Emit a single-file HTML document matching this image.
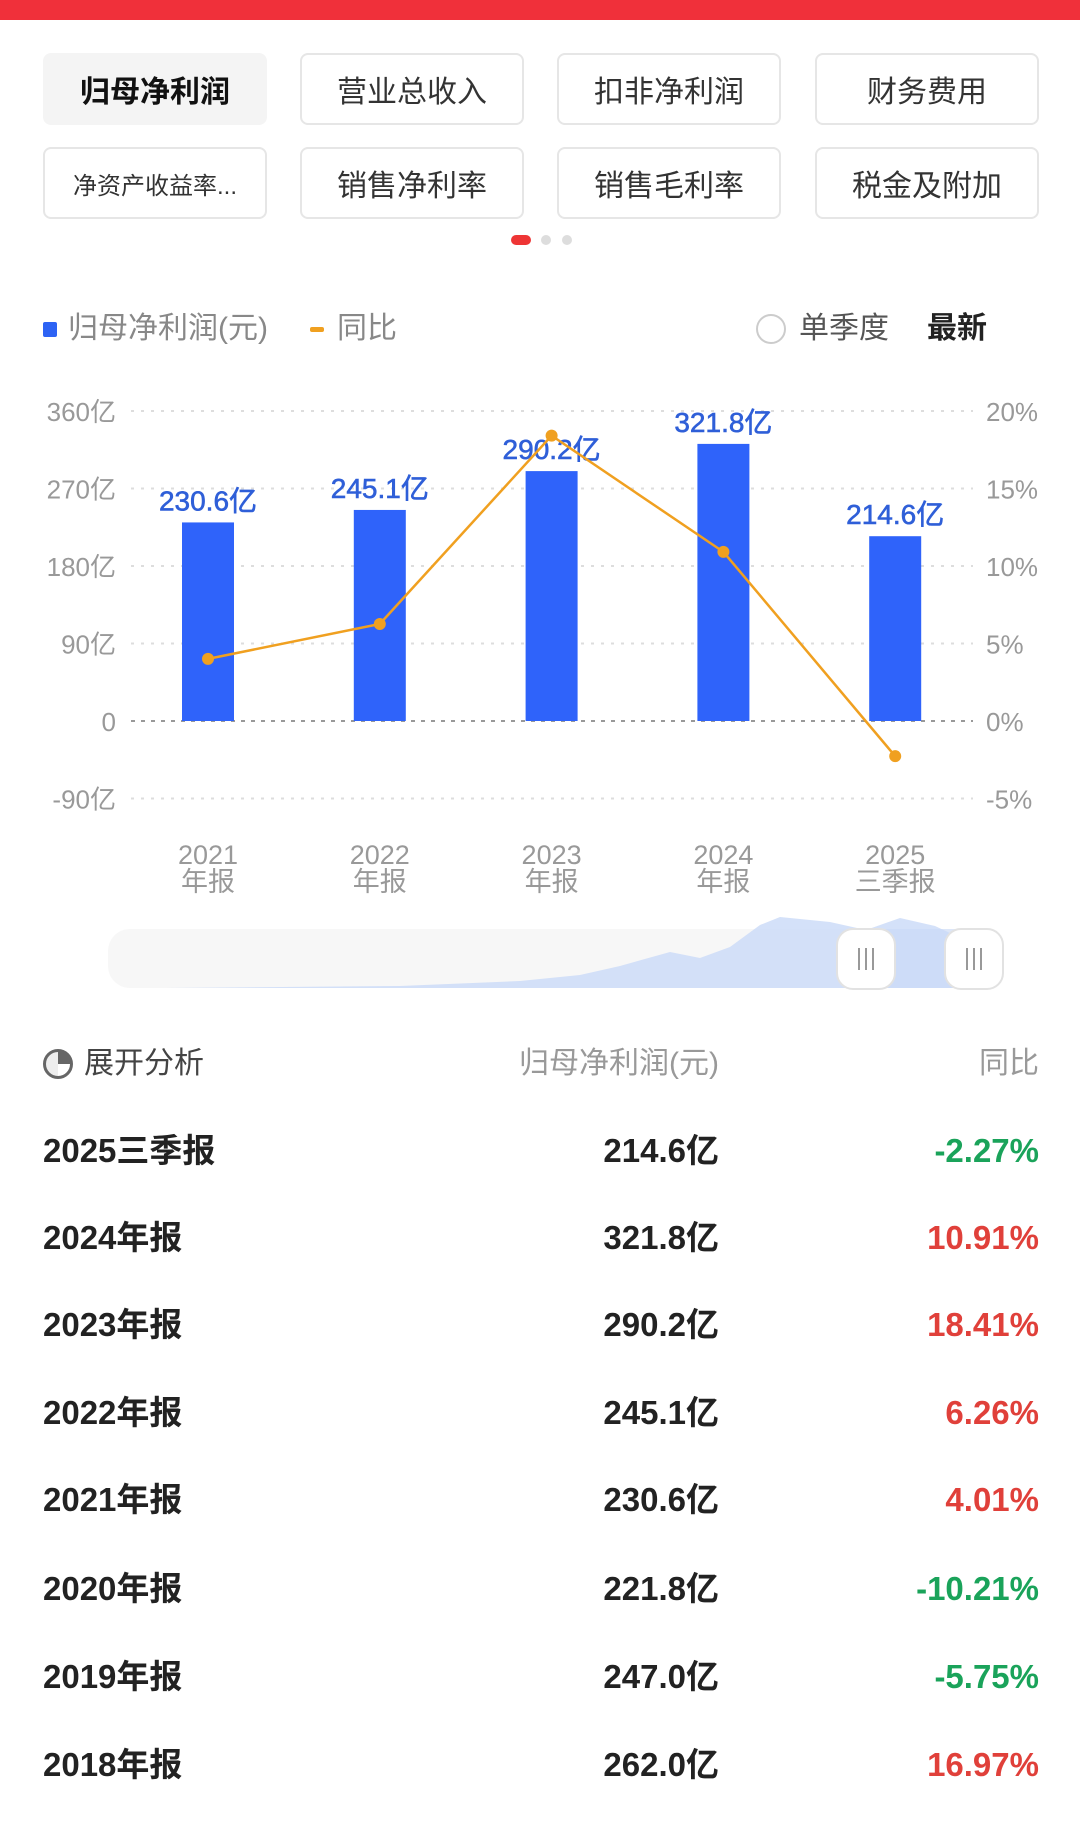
<!DOCTYPE html>
<html><head><meta charset="utf-8">
<style>
*{margin:0;padding:0;box-sizing:border-box}
body{width:1080px;height:1821px;background:#fff;position:relative;overflow:hidden;font-family:"Liberation Sans","Noto Sans CJK SC",sans-serif;color:#222}
.abs{position:absolute}
.btn{position:absolute;width:224px;height:72px;border:2px solid #e6e6e6;border-radius:8px;display:flex;align-items:center;justify-content:center;font-size:30px;color:#333}
.btn.active{background:#f4f4f4;border-color:#f4f4f4;font-weight:bold;color:#111}
.row{position:absolute;left:0;width:1080px;height:40px;font-size:33px;font-weight:bold;color:#222}
.row span{position:absolute;top:0;line-height:40px}
.c1{left:43px}
.c2{right:361px}
.c3{right:41px}
.up{color:#e0403a}.down{color:#1aa35a}
</style></head><body>
<div class="abs" style="left:0;top:0;width:1080px;height:20px;background:#f0303a"></div>

<div class="btn active" style="left:43px;top:53px">归母净利润</div>
<div class="btn" style="left:300px;top:53px">营业总收入</div>
<div class="btn" style="left:557px;top:53px">扣非净利润</div>
<div class="btn" style="left:815px;top:53px">财务费用</div>
<div class="btn" style="left:43px;top:147px;font-size:24px">净资产收益率...</div>
<div class="btn" style="left:300px;top:147px">销售净利率</div>
<div class="btn" style="left:557px;top:147px">销售毛利率</div>
<div class="btn" style="left:815px;top:147px">税金及附加</div>

<div class="abs" style="left:511px;top:235px;width:20px;height:10px;border-radius:5px;background:#ee3535"></div>
<div class="abs" style="left:541px;top:235px;width:10px;height:10px;border-radius:5px;background:#ddd"></div>
<div class="abs" style="left:562px;top:235px;width:10px;height:10px;border-radius:5px;background:#ddd"></div>

<div class="abs" style="left:43px;top:322px;width:14px;height:15px;background:#2d63f4;border-radius:2px"></div>
<div class="abs" style="left:68px;top:310px;font-size:30px;color:#888;line-height:38px">归母净利润(元)</div>
<div class="abs" style="left:310px;top:327px;width:14px;height:5px;background:#f0a020;border-radius:2px"></div>
<div class="abs" style="left:337px;top:310px;font-size:30px;color:#888;line-height:38px">同比</div>
<div class="abs" style="left:756px;top:314px;width:30px;height:30px;border:2px solid #ccc;border-radius:50%"></div>
<div class="abs" style="left:799px;top:310px;font-size:30px;color:#555;line-height:38px">单季度</div>
<div class="abs" style="left:927px;top:310px;font-size:30px;color:#222;font-weight:bold;line-height:38px">最新</div>

<svg class="abs" id="chart" style="left:0;top:380px" width="1080" height="640" viewBox="0 380 1080 640"></svg>

<div class="abs" style="left:43px;top:1049px;width:30px;height:30px;border:3px solid #666;border-radius:50%;background:conic-gradient(#666 0 90deg,#fff 90deg 180deg,#eee 180deg 360deg)"></div>
<div class="abs" style="left:84px;top:1044px;font-size:30px;color:#444;line-height:40px">展开分析</div>
<div class="abs" style="right:361px;top:1044px;font-size:30px;color:#999;line-height:40px">归母净利润(元)</div>
<div class="abs" style="right:41px;top:1044px;font-size:30px;color:#999;line-height:40px">同比</div>

<div id="table"></div>

<script>
const categories=["2021","2022","2023","2024","2025"];
const periods=["年报","年报","年报","年报","三季报"];
const profits=[230.6,245.1,290.2,321.8,214.6];
const yoy=[4.01,6.26,18.41,10.91,-2.27];
const leftTicks=[360,270,180,90,0,-90];
const rightTicks=[20,15,10,5,0,-5];
const tableLabels=["2025三季报","2024年报","2023年报","2022年报","2021年报","2020年报","2019年报","2018年报"];
const tableValues=["214.6亿","321.8亿","290.2亿","245.1亿","230.6亿","221.8亿","247.0亿","262.0亿"];
const tableYoy=[-2.27,10.91,18.41,6.26,4.01,-10.21,-5.75,16.97];

const NS="http://www.w3.org/2000/svg";
const svg=document.getElementById('chart');
const y0=721,unit=77.5/90;
const yL=v=>y0-v*unit;
const yR=v=>y0-v*77.5/5;
const xC=i=>208+i*171.8;
function mk(t,a){const e=document.createElementNS(NS,t);for(const k in a)e.setAttribute(k,a[k]);svg.appendChild(e);return e;}
leftTicks.forEach((v,i)=>{
  const g=mk('line',{x1:131,x2:973,y1:yL(v),y2:yL(v),stroke:v===0?'#999':'#ddd','stroke-width':2,'stroke-dasharray':v===0?'4 6':'3 7'});
  
  const t=mk('text',{x:116,y:yL(v)+10,'text-anchor':'end','font-size':26,fill:'#999'});
  t.textContent=v===0?'0':v+'亿';
  
});
rightTicks.forEach(v=>{
  const t=mk('text',{x:986,y:yR(v)+10,'font-size':26,fill:'#999'});
  t.textContent=v+'%';
  
});
profits.forEach((v,i)=>{
  const b=mk('rect',{x:xC(i)-26,y:yL(v),width:52,height:y0-yL(v),fill:'#2f63fa'});
  
  const t=mk('text',{x:xC(i),y:yL(v)-12,'text-anchor':'middle','font-size':28,fill:'#2f5fd8',stroke:'#2f5fd8','stroke-width':0.6});
  t.textContent=v.toFixed(1)+'亿';
  
  const a=mk('text',{x:xC(i),y:864,'text-anchor':'middle','font-size':27,fill:'#999'});
  a.textContent=categories[i];
  
  const p=mk('text',{x:xC(i),y:891,'text-anchor':'middle','font-size':27,fill:'#999'});
  p.textContent=periods[i];
  
});
const pl=mk('polyline',{points:yoy.map((v,i)=>xC(i)+','+yR(v)).join(' '),fill:'none',stroke:'#f0a020','stroke-width':2.5});

yoy.forEach((v,i)=>{
  const c=mk('circle',{cx:xC(i),cy:yR(v),r:6,fill:'#f0a020'});
  
});
const sb=mk('rect',{x:108,y:929,width:896,height:59,rx:22,fill:'#f7f7f7'});

const sel=mk('rect',{x:866,y:929,width:108,height:59,fill:'#c9daf8',opacity:0.6});

const ar=mk('path',{d:'M165 988 L400 986 L520 981 L580 975 L620 966 L670 952 L700 958 L730 947 L760 925 L780 917 L830 922 L866 930 L900 918 L935 926 L950 933 L960 988 Z',fill:'#c9daf8',opacity:0.8});

[866,974].forEach(hx=>{
  const h=mk('rect',{x:hx-29,y:929,width:58,height:60,rx:16,fill:'#fff',stroke:'#e2e2e2','stroke-width':2});
  
  [-7,0,7].forEach(d=>mk('line',{x1:hx+d,x2:hx+d,y1:948,y2:970,stroke:'#999','stroke-width':2}));
});
const tb=document.getElementById('table');
const rowY=[1131,1218,1305,1393,1480,1569,1657,1745];
tableLabels.forEach((l,i)=>{
  const r=document.createElement('div');r.className='row';r.style.top=rowY[i]+'px';
  
  
  const v=tableYoy[i];
  r.innerHTML='<span class="c1">'+l+'</span><span class="c2">'+tableValues[i]+'</span><span class="c3 '+(v<0?'down':'up')+'">'+v.toFixed(2)+'%</span>';
  tb.appendChild(r);
});
</script>
</body></html>
